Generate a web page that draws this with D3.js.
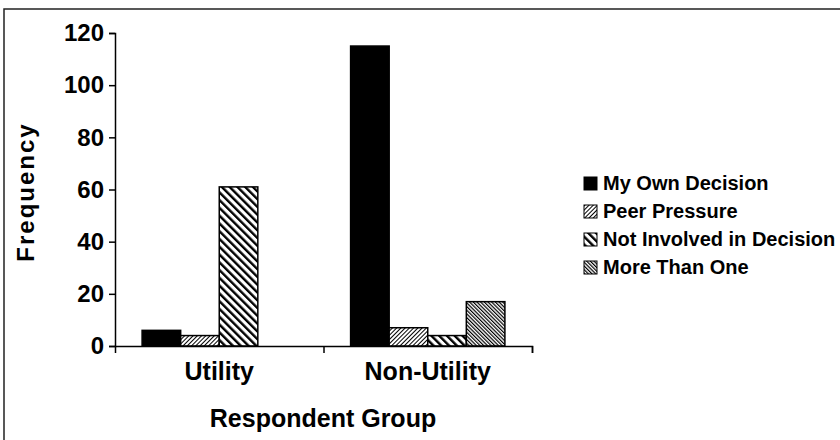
<!DOCTYPE html>
<html>
<head>
<meta charset="utf-8">
<script src="https://cdn.jsdelivr.net/npm/d3@7"></script>
<style>
  body { margin: 0; background: #fff; }
  text { font-family: "Liberation Sans", Arial, sans-serif; font-weight: bold; fill: #000; }
</style>
</head>
<body>
<div id="chart"></div>
<script>
const groups = ['Utility', 'Non-Utility'];
const series = ['My Own Decision', 'Peer Pressure', 'Not Involved in Decision', 'More Than One'];
const utilityValues = [6, 4, 61, 0];
const nonUtilityValues = [115, 7, 4, 17];
const yTicks = [0, 20, 40, 60, 80, 100, 120];

const width = 840;
const height = 440;

const svg = d3.select('#chart').append('svg')
  .attr('width', width)
  .attr('height', height);

// fills: solid, fine "/", bold "\", dense "\"
const defs = svg.append('defs');
function hatch(id, size, stroke, angle) {
  const p = defs.append('pattern')
    .attr('id', id)
    .attr('patternUnits', 'userSpaceOnUse')
    .attr('width', size)
    .attr('height', size)
    .attr('patternTransform', 'rotate(' + angle + ')');
  p.append('rect').attr('width', size).attr('height', size).attr('fill', '#fff');
  p.append('rect').attr('width', stroke).attr('height', size).attr('fill', '#000');
}
hatch('peer', 3, 1, 45);
hatch('notinv', 5.5, 2.4, -45);
hatch('more', 2.6, 1.2, -45);
const fills = ['#000', 'url(#peer)', 'url(#notinv)', 'url(#more)'];

// frame from the scan
svg.append('path')
  .attr('d', 'M4,440 V9 H840')
  .attr('fill', 'none')
  .attr('stroke', '#222')
  .attr('stroke-width', 1.5);

const x0 = d3.scaleBand()
  .domain(groups)
  .range([115, 532])
  .paddingInner(0.26)
  .paddingOuter(0.13);

const x1 = d3.scaleBand()
  .domain(series)
  .range([0, x0.bandwidth()]);

const y = d3.scaleLinear()
  .domain([0, 120])
  .range([346, 33]);

const table = groups.map((g, i) => ({
  group: g,
  values: (i === 0 ? utilityValues : nonUtilityValues).map((v, j) => ({ key: series[j], value: v, fill: fills[j] }))
}));

svg.selectAll('.group')
  .data(table)
  .enter().append('g')
  .attr('class', 'group')
  .attr('transform', d => 'translate(' + x0(d.group) + ',0)')
  .selectAll('rect')
  .data(d => d.values.filter(v => v.value > 0))
  .enter().append('rect')
  .attr('x', d => x1(d.key))
  .attr('y', d => y(d.value))
  .attr('width', x1.bandwidth())
  .attr('height', d => y(0) - y(d.value))
  .attr('fill', d => d.fill)
  .attr('stroke', '#000')
  .attr('stroke-width', 1.5);

// y axis
const yAxis = svg.append('g')
  .attr('transform', 'translate(115,0)')
  .call(d3.axisLeft(y).tickValues(yTicks).tickSize(6).tickPadding(5));
yAxis.select('.domain').attr('stroke', '#000').attr('stroke-width', 1.5);
yAxis.selectAll('.tick line').attr('stroke', '#000').attr('stroke-width', 1.5);
yAxis.selectAll('.tick text')
  .style('font-size', '24px')
  .style('font-family', '"Liberation Sans", Arial, sans-serif')
  .style('font-weight', 'bold')
  .attr('fill', '#000');

// x axis: ticks at the band edges
const xAxisScale = d3.scaleLinear().domain([0, 2]).range([115, 532]);
const xAxis = svg.append('g')
  .attr('transform', 'translate(0,346)')
  .call(d3.axisBottom(xAxisScale).tickValues([0, 1, 2]).tickSize(7).tickFormat(''));
xAxis.select('.domain').attr('stroke', '#000').attr('stroke-width', 1.5);
xAxis.selectAll('.tick line').attr('stroke', '#000').attr('stroke-width', 1.5);
xAxis.selectAll('.tick').filter(d => d === 0).remove();

svg.selectAll('.xlabel')
  .data(groups)
  .enter().append('text')
  .attr('class', 'xlabel')
  .attr('x', d => x0(d) + x0.bandwidth() / 2)
  .attr('y', 380)
  .attr('text-anchor', 'middle')
  .style('font-size', '25px')
  .text(d => d);

svg.append('text')
  .attr('x', 323)
  .attr('y', 427)
  .attr('text-anchor', 'middle')
  .style('font-size', '25px')
  .text('Respondent Group');

svg.append('text')
  .attr('transform', 'translate(34,192) rotate(-90)')
  .attr('text-anchor', 'middle')
  .style('font-size', '24px')
  .style('letter-spacing', '2px')
  .text('Frequency');

// legend
const legend = svg.selectAll('.legend')
  .data(series)
  .enter().append('g')
  .attr('class', 'legend')
  .attr('transform', (d, i) => 'translate(584,' + (190 + i * 28) + ')');
legend.append('rect')
  .attr('x', 0)
  .attr('y', -13)
  .attr('width', 13)
  .attr('height', 13)
  .attr('fill', (d, i) => fills[i])
  .attr('stroke', '#000')
  .attr('stroke-width', 1);
legend.append('text')
  .attr('x', 19)
  .attr('y', 0)
  .style('font-size', '20px')
  .text(d => d);
</script>
</body>
</html>
